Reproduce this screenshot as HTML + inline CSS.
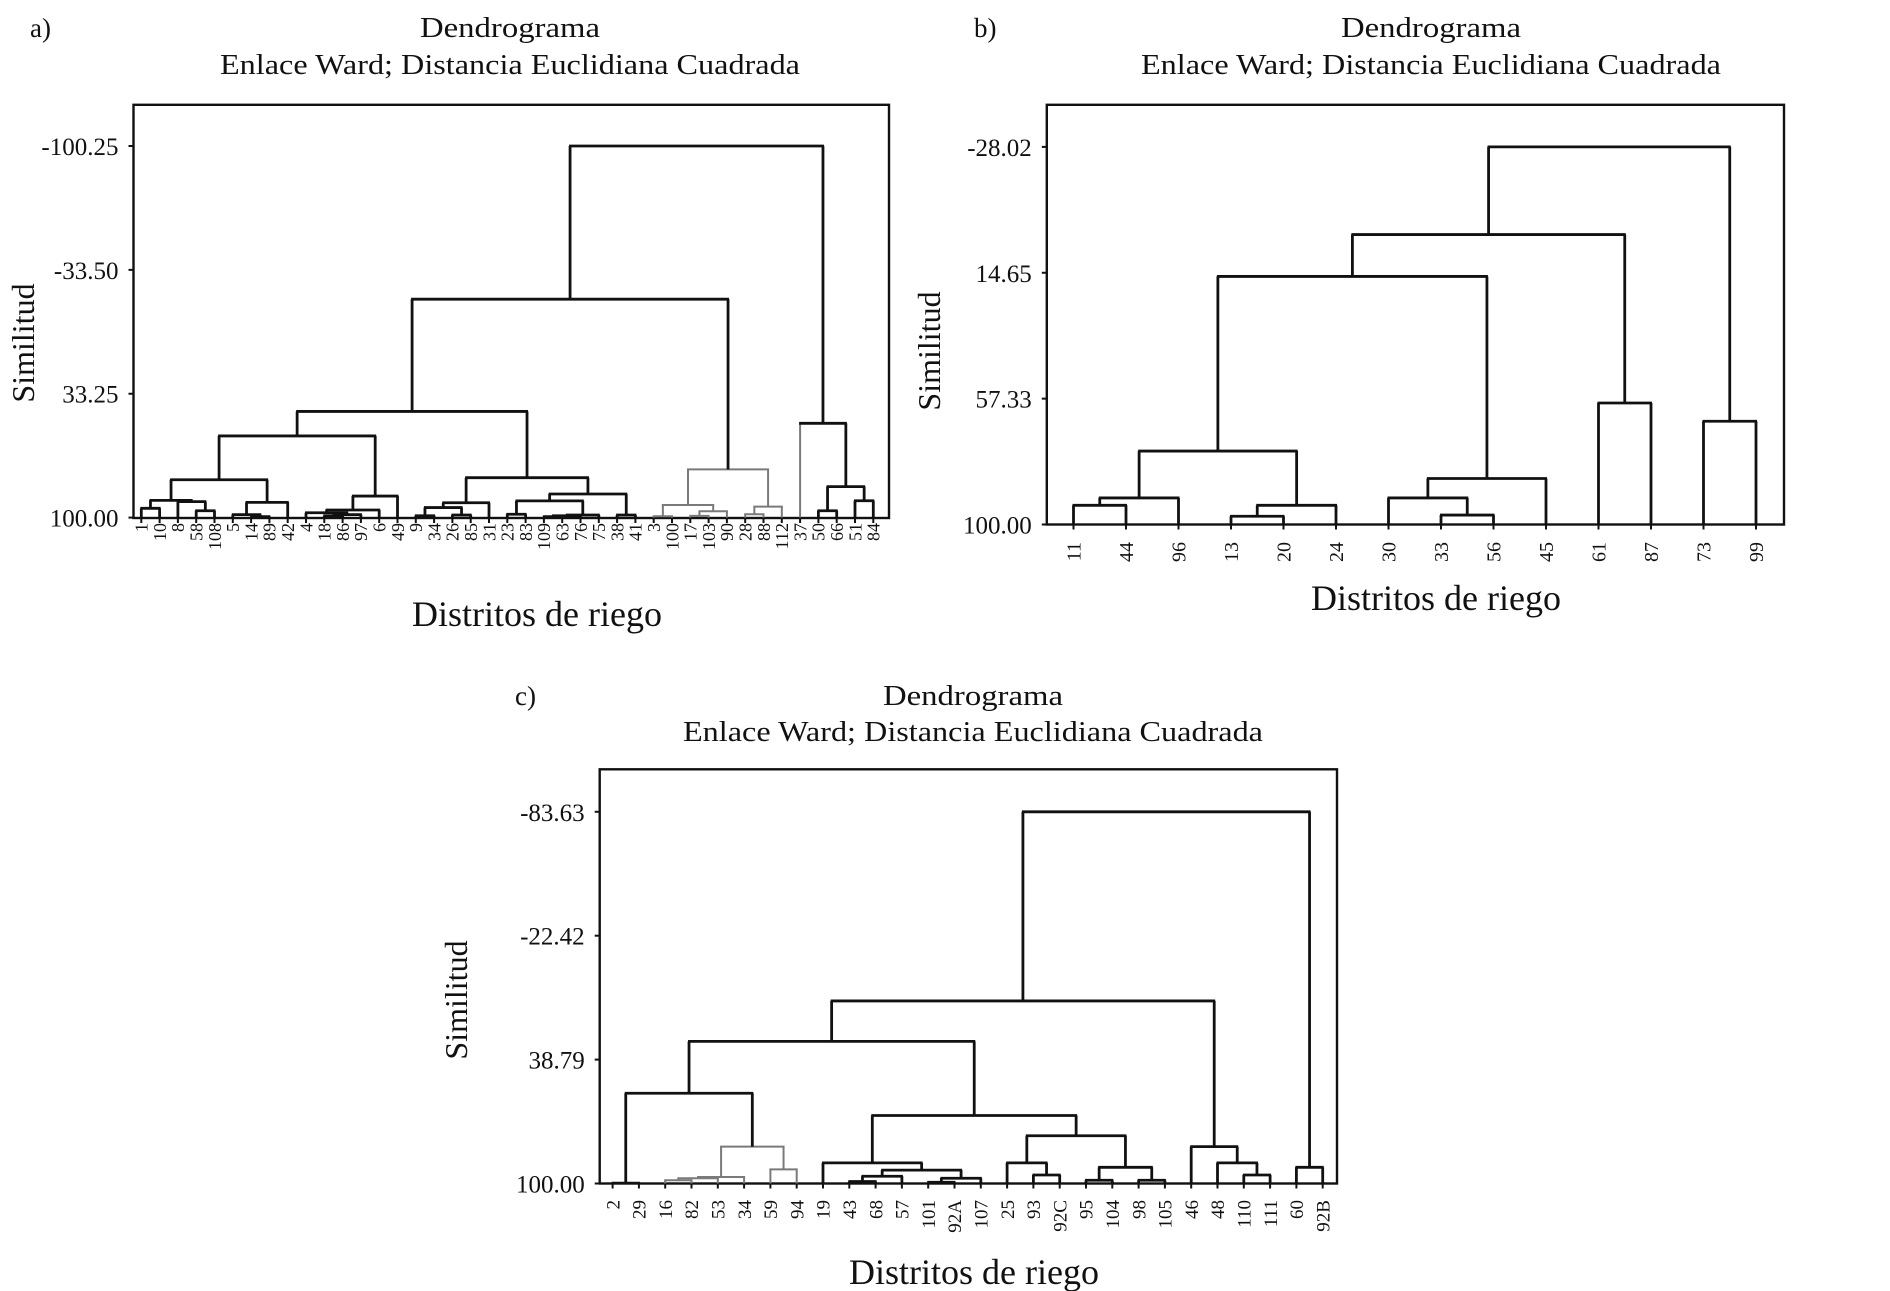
<!DOCTYPE html>
<html><head><meta charset="utf-8"><style>
html,body{margin:0;padding:0;background:#fff}
svg{display:block}
text{font-family:"Liberation Serif",serif;fill:#111}
</style></head><body>
<svg id="fig" width="1890" height="1291" viewBox="0 0 1890 1291" xmlns="http://www.w3.org/2000/svg">
<g id="pa"></g>
<g id="pb"></g>
<g id="pc"></g>
</svg>
<script>
// ---- Panel a data ----
const aLabels=["1","10","8","58","108","5","14","89","42","4","18","86","97","6","49","9","34","26","85","31","23","83","109","63","76","75","38","41","3","100","17","103","90","28","88","112","37","50","66","51","84"];
const aLeft =[0,3,2,41,6,5,46,44,10,49,9,51,52,48,15,17,55,57,20,22,60,61,59,26,63,58,54,28,30,69,68,33,72,71,67,37,39,76,36,75];
const aRight=[1,4,42,43,7,45,8,47,11,12,50,13,14,53,16,18,56,19,21,23,24,25,62,27,64,65,66,29,31,32,70,34,35,73,74,38,40,77,78,79];
const aHeight=[95.0,96.3,91.4,90.7,99.5,98.4,91.8,79.6,99.0,98.4,97.4,95.9,88.4,56.0,99.0,98.6,94.6,92.0,98.2,99.5,99.0,98.6,91.0,98.6,87.3,78.5,42.8,99.3,99.1,96.6,93.2,98.2,94.1,74.0,-17.7,96.3,90.9,83.3,49.2,-100.25];
const aColor=["k","k","k","k","k","k","k","k","k","k","k","k","k","k","k","k","k","k","k","k","k","k","k","k","k","k","k","g","g","g","g","g","g","g","k","k","k","k","gk","k"];
const aTicks=[-100.25,-33.50,33.25,100.00];
const aTickText=["-100.25","-33.50","33.25","100.00"];
// ---- Panel b data ----
const bLabels=["11","44","96","13","20","24","30","33","56","45","61","87","73","99"];
const bLeft =[0,14,3,16,15,7,6,20,18,10,22,12,24];
const bRight=[1,2,4,5,17,8,19,9,21,11,23,13,25];
const bHeight=[93.5,91.0,97.2,93.5,75.1,96.8,91.0,84.4,15.9,58.8,1.7,65.0,-28.02];
const bColor=["k","k","k","k","k","k","k","k","k","k","k","k","k"];
const bTicks=[-28.02,14.65,57.33,100.00];
const bTickText=["-28.02","14.65","57.33","100.00"];
// ---- Panel c data ----
const cLabels=["2","29","16","82","53","34","59","94","19","43","68","57","101","92A","107","25","93","92C","95","104","98","105","46","48","110","111","60","92B"];
const cLeft =[0,2,29,30,6,31,28,9,35,12,37,36,8,16,15,18,20,43,42,40,34,24,23,22,48,26,52];
const cRight=[1,3,4,5,7,32,33,10,11,13,14,38,39,17,41,19,21,44,45,46,47,25,49,50,51,27,53];
const cHeight=[99.8,98.4,97.4,96.8,93.0,81.8,55.4,99.0,96.4,99.4,97.4,93.4,89.8,95.8,89.8,98.4,98.4,92.0,76.4,66.4,29.8,95.8,89.8,81.8,9.8,92.0,-83.63];
const cColor=["k","g","g","g","g","g","k","k","k","k","k","k","k","k","k","k","k","k","k","k","k","k","k","k","k","k","k"];
const cTicks=[-83.63,-22.42,38.79,100.00];
const cTickText=["-83.63","-22.42","38.79","100.00"];

const NS="http://www.w3.org/2000/svg";
function mk(parent,tag,attrs){const e=document.createElementNS(NS,tag);for(const k in attrs)e.setAttribute(k,attrs[k]);parent.appendChild(e);return e;}

function panel(g,cfg){
  const {labels,left,right,height,color,ticks,tickText,box,x0,step,yTopPix,yBotPix,leafFont,labelY,title}=cfg;
  const vTop=ticks[0],vBot=ticks[ticks.length-1];
  const ys=v=>yBotPix-(vBot-v)/(vBot-vTop)*(yBotPix-yTopPix);
  const xs=i=>x0+i*step;
  const t1=mk(g,'text',{x:title.cx,y:title.y1,'text-anchor':'middle','font-size':29,textLength:180,lengthAdjust:'spacingAndGlyphs'});
  
  
  t1.textContent='Dendrograma';
  const t2=mk(g,'text',{x:title.cx,y:title.y2,'text-anchor':'middle','font-size':29,textLength:580,lengthAdjust:'spacingAndGlyphs'});
  
  
  t2.textContent='Enlace Ward; Distancia Euclidiana Cuadrada';
  const tl=mk(g,'text',{x:title.lx,y:title.y1,'font-size':27});
  
  
  tl.textContent=title.letter;
  const ya=mk(g,'text',{transform:`translate(${title.simX},${title.simY}) rotate(-90)`,'text-anchor':'middle','font-size':32});
  
  
  ya.textContent='Similitud';
  const xa=mk(g,'text',{x:title.disX,y:title.disY,'text-anchor':'middle','font-size':36});
  
  
  xa.textContent='Distritos de riego';
  const r=mk(g,'rect',{x:box.l,y:box.t,width:box.r-box.l,height:box.b-box.t,fill:'none',stroke:'#111','stroke-width':2.4});
  
  
  ticks.forEach((v,i)=>{
    const y=ys(v);
    const tk=mk(g,'line',{x1:box.l-5,x2:box.l,y1:y,y2:y,stroke:'#111','stroke-width':2});
    
    
    const tt=mk(g,'text',{x:box.l-15,y:y+9,'text-anchor':'end','font-size':25});
    
    
    tt.textContent=tickText[i];
  });
  const px=[],py=[];
  labels.forEach((lab,i)=>{
    px.push(xs(i));py.push(ys(vBot));
    const tk=mk(g,'line',{x1:xs(i),x2:xs(i),y1:box.b,y2:box.b+5,stroke:'#111','stroke-width':2});
    
    
    const tt=mk(g,'text',{transform:`translate(${xs(i)+leafFont*0.35},${labelY}) rotate(-90)`,'text-anchor':'end','font-size':leafFont});
    
    
    tt.textContent=lab;
  });
  left.forEach((a,k)=>{
    const b=right[k];const y=ys(height[k]);
    const c=color[k];
    const colL=c[0]==='g'?'#7a7a7a':'#111';
    const colR=c[c.length-1]==='g'?'#7a7a7a':'#111';
    const colH=c==='g'?'#7a7a7a':'#111';
    const w=c==='g'?2:2.8;
    const grp=mk(g,'g',{});
    
    
    mk(grp,'line',{x1:px[a],x2:px[a],y1:py[a],y2:y,stroke:colL,'stroke-width':c[0]==='g'?2:2.8});
    mk(grp,'line',{x1:px[b],x2:px[b],y1:py[b],y2:y,stroke:colR,'stroke-width':w});
    mk(grp,'line',{x1:px[a]-1,x2:px[b]+1,y1:y,y2:y,stroke:colH,'stroke-width':w});
    px.push((px[a]+px[b])/2);py.push(y);
  });
}

panel(document.getElementById('pa'),{labels:aLabels,left:aLeft,right:aRight,height:aHeight,color:aColor,ticks:aTicks,tickText:aTickText,
  box:{l:133.5,r:889,t:104.8,b:518},x0:141.3,step:18.3,yTopPix:146,yBotPix:517.6,leafFont:18,labelY:523,
  title:{cx:510,y1:37,y2:74,lx:30,letter:'a)',simX:34,simY:343,disX:537,disY:626}});
panel(document.getElementById('pb'),{labels:bLabels,left:bLeft,right:bRight,height:bHeight,color:bColor,ticks:bTicks,tickText:bTickText,
  box:{l:1046.8,r:1784,t:104.8,b:524.5},x0:1073.5,step:52.5,yTopPix:146.9,yBotPix:524.5,leafFont:20,labelY:542,
  title:{cx:1431,y1:37,y2:74,lx:974,letter:'b)',simX:940,simY:351,disX:1436,disY:610}});
panel(document.getElementById('pc'),{labels:cLabels,left:cLeft,right:cRight,height:cHeight,color:cColor,ticks:cTicks,tickText:cTickText,
  box:{l:599.7,r:1337,t:769.3,b:1183.5},x0:612.6,step:26.3,yTopPix:811.8,yBotPix:1183.5,leafFont:19,labelY:1200,
  title:{cx:973,y1:705,y2:741,lx:515,letter:'c)',simX:467,simY:1000,disX:974,disY:1284}});
</script>
</body></html>
